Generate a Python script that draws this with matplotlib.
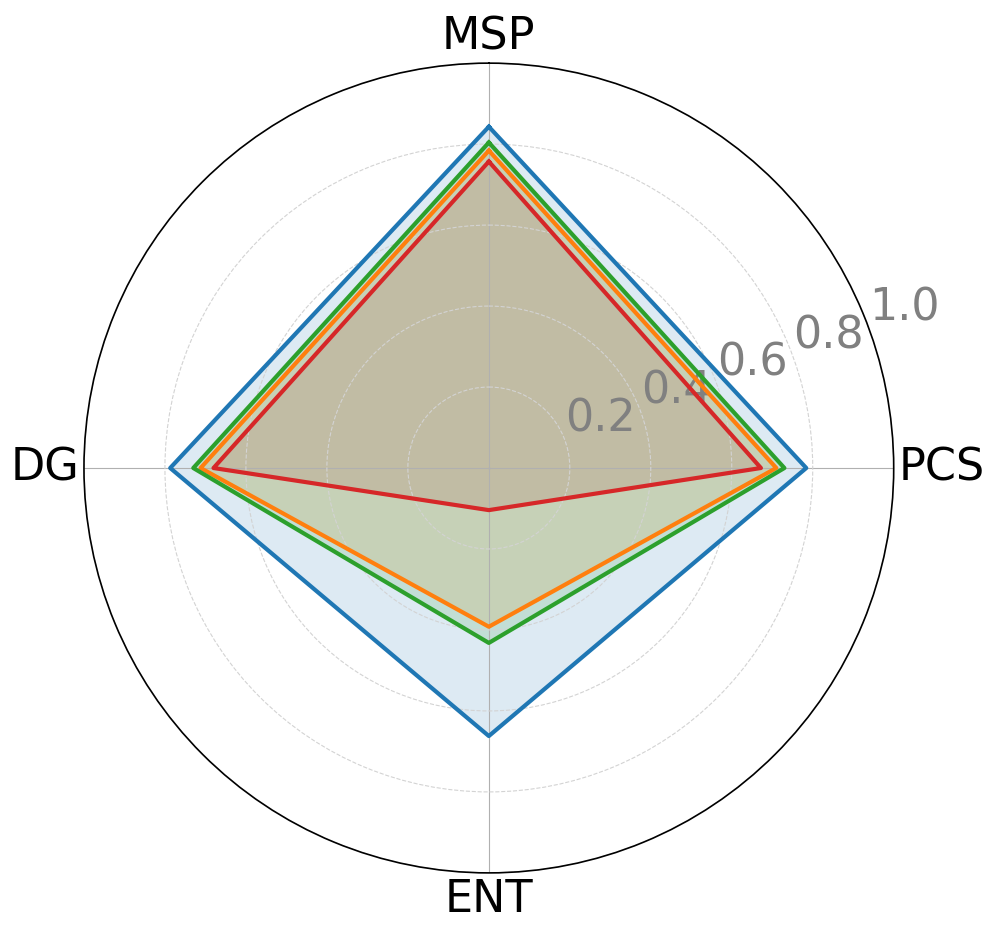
import numpy as np
import matplotlib.pyplot as plt

categories = ['MSP', 'PCS', 'ENT', 'DG']
series_colors = ['#1f77b4', '#ff7f0e', '#2ca02c', '#d62728']
blue_vals = [0.843, 0.784, 0.662, 0.787]
orange_vals = [0.784, 0.71, 0.392, 0.712]
green_vals = [0.804, 0.73, 0.432, 0.73]
red_vals = [0.757, 0.672, 0.104, 0.68]
r_ticks = [0.2, 0.4, 0.6, 0.8, 1.0]

angles = np.linspace(0, 2 * np.pi, len(categories), endpoint=False).tolist()
angles += angles[:1]

fig = plt.figure(figsize=(9.96, 9.38), dpi=100)
ax = fig.add_axes([0.0843, 0.0693, 0.813, 0.8635], polar=True)
ax.set_theta_offset(np.pi / 2)
ax.set_theta_direction(-1)

series = list(zip([blue_vals, orange_vals, green_vals, red_vals], series_colors))

# red fill sits underneath the others in the reference
for i in [3, 0, 1, 2]:
    vals, c = series[i]
    v = vals + vals[:1]
    ax.fill(angles, v, color=c, alpha=0.15)
for vals, c in series:
    v = vals + vals[:1]
    ax.plot(angles, v, color=c, linewidth=3)

ax.set_xticks(angles[:-1])
ax.set_xticklabels(categories, fontsize=32)
ax.tick_params(axis='x', pad=-7)
for lab, ang in zip(ax.get_xticklabels(), angles[:-1]):
    if np.isclose(ang, 0):
        lab.set_verticalalignment('bottom')
    elif np.isclose(ang, np.pi):
        lab.set_verticalalignment('top')
    elif ang < np.pi:
        lab.set_horizontalalignment('left')
    else:
        lab.set_horizontalalignment('right')

ax.set_ylim(0, 1.0)
ax.set_yticks(r_ticks)
ax.set_yticklabels([str(t) for t in r_ticks], fontsize=32, color='grey')
ax.set_rlabel_position(70)
ax.yaxis.grid(True, linestyle='--', color='lightgrey')
ax.xaxis.grid(True, color='#b0b0b0')
ax.spines['polar'].set_linewidth(1.2)

fig.savefig('out.png', dpi=100)
